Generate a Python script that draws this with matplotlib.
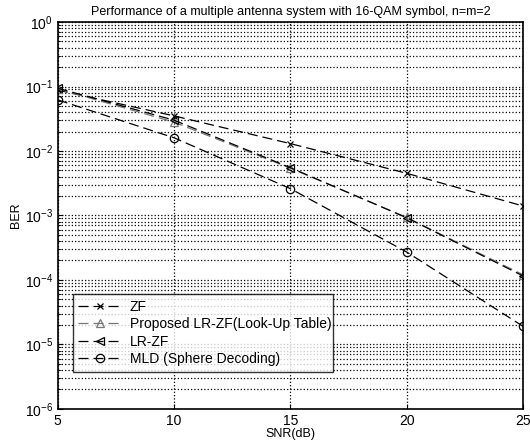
import matplotlib
matplotlib.use('Agg')
import matplotlib.pyplot as plt
import numpy as np

plt.rcParams['font.family'] = ['Liberation Sans', 'DejaVu Sans']

snr = [5, 10, 15, 20, 25]
ber_zf = [0.088, 0.035, 0.013, 0.0045, 0.0014]
ber_proposed = [0.092, 0.028, 0.0054, 0.00093, 0.00012]
ber_lrzf = [0.094, 0.030, 0.0055, 0.00092, 0.000115]
ber_mld = [0.062, 0.016, 0.0026, 0.00027, 0.000019]

fig = plt.figure(figsize=(5.3, 4.41), dpi=100)
ax = fig.add_axes([0.109, 0.073, 0.878, 0.877])

ax.semilogy(snr, ber_zf, color='black', ls=(0, (8, 4)), lw=0.9,
            marker='x', ms=5, mew=0.9, label='ZF')
ax.semilogy(snr, ber_proposed, color='#777777', ls=(0, (8, 4)), lw=0.9,
            marker='^', ms=6, mfc='none', mew=0.9, label='Proposed LR-ZF(Look-Up Table)')
ax.semilogy(snr, ber_lrzf, color='black', ls=(0, (8, 4)), lw=0.9,
            marker='<', ms=6, mfc='none', mew=0.9, label='LR-ZF')
ax.semilogy(snr, ber_mld, color='black', ls=(0, (8, 4)), lw=0.9,
            marker='o', ms=6, mfc='none', mew=0.9, label='MLD (Sphere Decoding)')

ax.set_xlim(5, 25)
ax.set_ylim(1e-6, 1)
ax.set_xticks([5, 10, 15, 20, 25])
ax.yaxis.set_minor_locator(matplotlib.ticker.LogLocator(base=10, subs=np.arange(2, 10)))
ax.yaxis.set_minor_formatter(matplotlib.ticker.NullFormatter())
ax.grid(True, which='major', color='black', ls=':', lw=0.9)
ax.grid(True, which='minor', axis='y', color='black', ls=':', lw=0.9)
ax.tick_params(which='both', direction='in', labelsize=10)
for s in ax.spines.values():
    s.set_linewidth(1.2)

ax.set_xlabel('SNR(dB)', fontsize=9, labelpad=0)
ax.set_ylabel('BER', fontsize=9, labelpad=2)
ax.set_title('Performance of a multiple antenna system with 16-QAM symbol, n=m=2',
             fontsize=9, pad=5)

leg = ax.legend(loc='lower left', bbox_to_anchor=(0.032, 0.096, 0.56, 0.217),
                mode='expand', fontsize=10, frameon=True, fancybox=False,
                edgecolor='black', handlelength=3.2, borderaxespad=0,
                labelspacing=0.25, handletextpad=0.5)
leg.get_frame().set_linewidth(1.0)

fig.savefig('out.png', dpi=100)
